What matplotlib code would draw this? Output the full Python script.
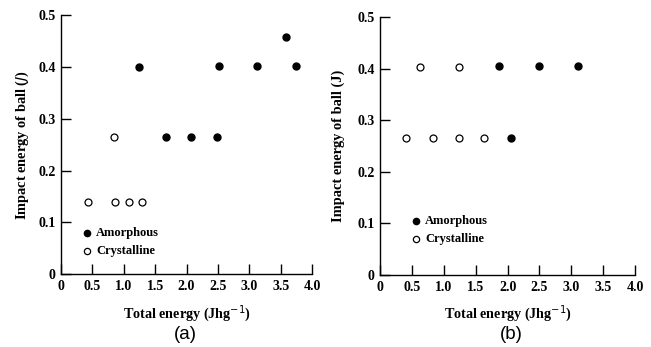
import matplotlib
matplotlib.use("Agg")
import matplotlib.pyplot as plt

# panel (a)
a_amorph_x = [1.25, 1.67, 2.07, 2.49, 2.51, 3.12, 3.58, 3.75]
a_amorph_y = [0.40, 0.265, 0.265, 0.265, 0.402, 0.402, 0.457, 0.402]
a_cryst_x = [0.43, 0.85, 0.86, 1.08, 1.29]
a_cryst_y = [0.139, 0.264, 0.139, 0.139, 0.139]

# panel (b)
b_amorph_x = [1.87, 2.05, 2.49, 3.10]
b_amorph_y = [0.405, 0.265, 0.405, 0.405]
b_cryst_x = [0.41, 0.62, 0.82, 1.24, 1.24, 1.63]
b_cryst_y = [0.265, 0.404, 0.265, 0.265, 0.404, 0.265]

xticks = [0, 0.5, 1.0, 1.5, 2.0, 2.5, 3.0, 3.5, 4.0]
xticklabels = ["0", "0.5", "1.0", "1.5", "2.0", "2.5", "3.0", "3.5", "4.0"]
yticks = [0, 0.1, 0.2, 0.3, 0.4, 0.5]
yticklabels = ["0", "0.1", "0.2", "0.3", "0.4", "0.5"]

serif = "Liberation Serif"

fig = plt.figure(figsize=(6.51, 3.47), dpi=100)
ax_a = fig.add_axes([0.0937, 0.2095, 0.3856, 0.7473])
ax_b = fig.add_axes([0.5842, 0.2075, 0.3912, 0.7426])


def style_axes(ax, ylabel, ypad):
    ax.set_xlim(0, 4.0)
    ax.set_ylim(0, 0.5)
    for side in ("top", "right"):
        ax.spines[side].set_visible(False)
    for side in ("left", "bottom"):
        ax.spines[side].set_linewidth(1.0)
    ax.set_xticks(xticks)
    ax.set_xticklabels(xticklabels, family=serif, fontsize=10, fontweight="bold")
    ax.set_yticks(yticks)
    ax.set_yticklabels(yticklabels, family=serif, fontsize=10, fontweight="bold")
    ax.tick_params(direction="in", length=7, width=1.0, pad=4)
    ax.set_xlabel("Total energy (Jhg$^{-1}$)", family=serif, fontsize=10.2,
                  fontweight="bold", labelpad=7)
    ax.set_ylabel(ylabel, family=serif, fontsize=10.4, fontweight="bold", labelpad=ypad)


def draw(ax, ax_x, ax_y, cx, cy, leg_x, leg_y1, leg_y2):
    ax.plot(ax_x, ax_y, "o", color="black", markersize=5, clip_on=False)
    ax.plot(cx, cy, "o", markerfacecolor="white", markeredgecolor="black",
            markeredgewidth=0.9, markersize=5, clip_on=False)
    # hand-placed key
    ax.plot([leg_x], [leg_y1], "o", color="black", markersize=4.5)
    ax.plot([leg_x], [leg_y2], "o", markerfacecolor="white", markeredgecolor="black",
            markeredgewidth=0.9, markersize=4.5)
    ax.text(leg_x + 0.14, leg_y1, "Amorphous", family=serif, fontsize=9,
            fontweight="bold", va="center")
    ax.text(leg_x + 0.14, leg_y2, "Crystalline", family=serif, fontsize=9,
            fontweight="bold", va="center")


draw(ax_a, a_amorph_x, a_amorph_y, a_cryst_x, a_cryst_y, 0.42, 0.08, 0.045)
draw(ax_b, b_amorph_x, b_amorph_y, b_cryst_x, b_cryst_y, 0.56, 0.105, 0.069)

style_axes(ax_a, "Impact energy of ball ($\\mathit{J}$)", 5)
style_axes(ax_b, "Impact energy of ball (J)", 9)

fig.text(0.284, 0.035, "(a)", family="Liberation Sans", fontsize=13.5,
         ha="center", va="center")
fig.text(0.786, 0.035, "(b)", family="Liberation Sans", fontsize=13.5,
         ha="center", va="center")

fig.savefig("out.png", dpi=100)
